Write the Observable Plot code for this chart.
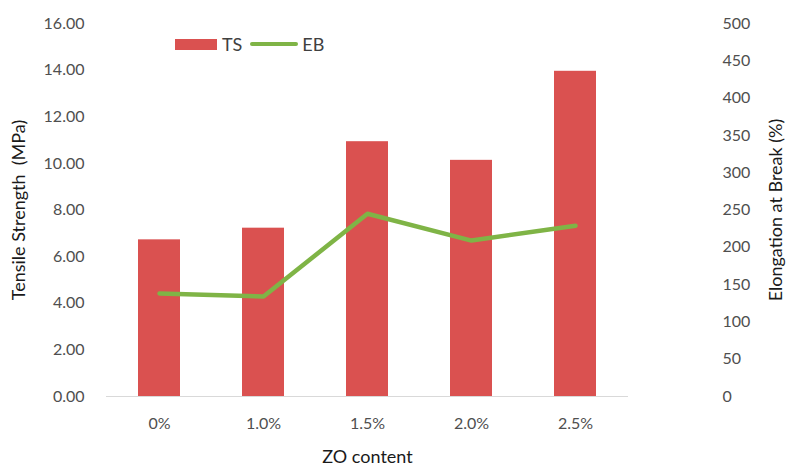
<!DOCTYPE html>
<html><head><meta charset="utf-8">
<script src="https://cdn.jsdelivr.net/npm/d3@7"></script>
<script src="https://cdn.jsdelivr.net/npm/@observablehq/plot@0.6"></script>
<style>
body{margin:0;background:#fff;}
#wrap{position:relative;width:795px;height:476px;}
#legend{position:absolute;left:175px;top:33px;font-family:Lato,"Open Sans",sans-serif;font-size:18px;color:#404040;display:flex;align-items:center;}
#legend .sw{display:inline-block;}
</style>
</head><body>
<div id="wrap"></div>
<script>
const categories = ["0%", "1.0%", "1.5%", "2.0%", "2.5%"];
const tsValues = [6.72, 7.22, 10.93, 10.13, 13.95];
const ebValues = [138, 134, 245, 209, 229];
const leftTicks = [0, 2, 4, 6, 8, 10, 12, 14, 16];
const rightTicks = [0, 50, 100, 150, 200, 250, 300, 350, 400, 450, 500];
const seriesNames = ["TS", "EB"];
const colors = ["#DA5150", "#7FB446"];

const leftMax = 16, rightMax = 500;
const toLeft = v => v * leftMax / rightMax;
const data = categories.map((c, i) => ({cat: c, ts: tsValues[i], eb: ebValues[i]}));

const chart = Plot.plot({
  width: 795, height: 476,
  marginLeft: 106, marginRight: 167, marginTop: 23, marginBottom: 80,
  style: {fontFamily: "Lato, 'Open Sans', sans-serif", fontSize: "16px", color: "#4f4f4f", background: "#fff"},
  x: {domain: categories, paddingInner: 0.6, paddingOuter: 0.3},
  y: {domain: [0, leftMax]},
  marks: [
    Plot.barY(data, {x: "cat", y: "ts", fill: colors[0]}),
    Plot.ruleY([0], {stroke: "#d9d9d9", strokeWidth: 1}),
    Plot.line(data, {x: "cat", y: d => toLeft(d.eb), stroke: colors[1], strokeWidth: 4.5, strokeLinejoin: "round", strokeLinecap: "round"}),
    Plot.axisX({tickSize: 0, tickPadding: 21, label: "ZO content", labelArrow: "none", labelAnchor: "center", labelOffset: 66}),
    Plot.axisY(leftTicks, {anchor: "left", tickSize: 0, tickPadding: 22, tickFormat: d => d.toFixed(2), label: "Tensile Strength  (MPa)", labelArrow: "none", labelAnchor: "center", labelOffset: 94}),
    Plot.axisY(rightTicks.map(toLeft), {anchor: "right", tickSize: 0, tickPadding: 94, tickFormat: d => String(Math.round(d * rightMax / leftMax)), label: "Elongation at Break (%)", labelArrow: "none", labelAnchor: "center", labelOffset: 153})
  ]
});
d3.select(chart).selectAll("[aria-label$='axis label'] text, [aria-label$='axis label']").attr("fill", "#1a1a1a").style("font-size", "18px");
document.getElementById("wrap").appendChild(chart);

const legend = d3.select("#wrap").append("div").attr("id", "legend");
seriesNames.forEach((n, i) => {
  const item = legend.append("span").style("display", "flex").style("align-items", "center").style("margin-right", "8px");
  item.append("span").attr("class", "sw")
    .style("width", i === 0 ? "42px" : "48px")
    .style("height", i === 0 ? "11px" : "4.5px")
    .style("border-radius", i === 0 ? "0" : "3px")
    .style("background", colors[i]).style("margin-right", i === 0 ? "5px" : "4px");
  item.append("span").text(n);
});
</script>
</body></html>
